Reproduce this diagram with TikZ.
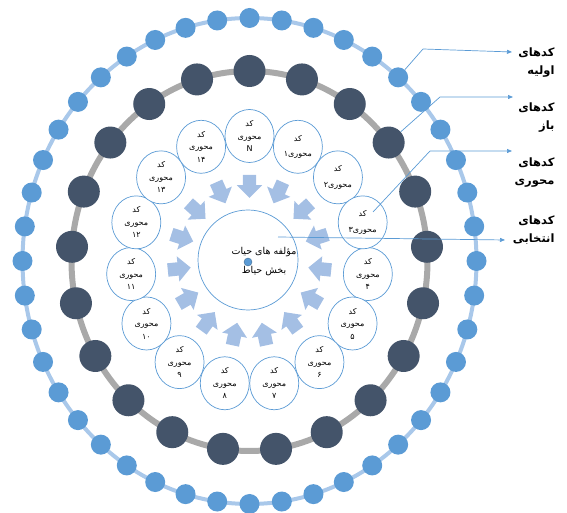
\documentclass[tikz,border=0pt]{standalone}
\usepackage{fontspec}
\usepackage{tikz}
\usetikzlibrary{arrows.meta,positioning,calc,shapes.geometric,shapes.arrows}
\TeXXeTstate=1
\newfontfamily\arabicfont[Script=Arabic,BoldFont={DejaVu Sans Bold}]{DejaVu Sans}
\newcommand{\fatext}[1]{\beginR #1\endR}
\definecolor{initBlue}{HTML}{5B9BD5}
\definecolor{initRing}{HTML}{A9C8EA}
\definecolor{openDark}{HTML}{44546A}
\definecolor{openRing}{HTML}{A9A9A9}
\definecolor{arrowBlue}{HTML}{A4BFE4}

\begin{document}
\begin{tikzpicture}[x=1pt,y=1pt,
    initcode/.style={circle,fill=initBlue,inner sep=0pt,minimum size=20pt},
    opencode/.style={circle,fill=openDark,inner sep=0pt,minimum size=32pt},
    axcode/.style={ellipse,draw=initBlue,fill=white,line width=0.7pt,
                   inner sep=0pt,minimum width=49pt,minimum height=53pt,
                   align=center,font=\arabicfont\fontsize{8}{12.5}\selectfont},
    selcode/.style={ellipse,draw=initBlue,fill=white,line width=0.7pt,
                    minimum width=100pt,minimum height=100pt},
    inarrow/.style={single arrow,fill=arrowBlue,inner sep=6.5pt,
                    single arrow head extend=6pt,minimum height=23pt},
    callout/.style={initBlue,line width=0.7pt},
    lbl/.style={anchor=east,align=right,
                font=\arabicfont\bfseries\fontsize{11.5}{18}\selectfont}
  ]
  \useasboundingbox (0,0) rectangle (567,513);
  \coordinate (O) at (249.5,252);
  %% Outer ring: initial codes (44 dots)
  \draw[initRing,line width=4pt] (O) ellipse [x radius=227pt,y radius=243pt];
  \begin{scope}[shift={(O)}]
    \foreach \k in {0,...,43}
      \node[initcode] (ic\k) at ({90-\k*360/44}:227pt and 243pt) {};
    %% Second ring: open codes (21 dots)
    \draw[openRing,line width=6pt] (0,0) ellipse [x radius=178pt,y radius=190pt];
    \foreach \k in {0,...,20}
      \node[opencode] (oc\k) at ({90-\k*360/21}:178pt and 190pt) {};
    %% Arrows towards the centre
    \foreach \k in {0,...,14}
      \node[inarrow,rotate={270-\k*24}] (ar\k) at ({90-\k*24}:74pt and 78pt) {};
    %% Axial codes
    \foreach \k/\num in {0/N,4/۴,5/۵,6/۶,7/۷,8/۸,9/۹,10/۱۰,11/۱۱,12/۱۲,13/۱۳,14/۱۴}
      \node[axcode] (ax\k) at ({90-\k*24}:119pt and 125pt)
        {\fatext{کد}\\\fatext{محوری}\\\num};
    \foreach \k/\num in {1/۱,2/۲,3/۳}
      \node[axcode] (ax\k) at ({90-\k*24}:119pt and 125pt)
        {\fatext{کد}\\[3pt]\fatext{محوری\num}};
  \end{scope}
  %% Centre: selective code
  \node[selcode] (sel) at (248,253) {};
  \node[align=center,font=\arabicfont\fontsize{9.5}{19}\selectfont] (seltxt) at (264,251)
    {\fatext{مؤلفه های حیات}\\\fatext{بخش حیاط}};
  \node[circle,fill=initBlue,draw=initBlue!70!black,inner sep=0pt,minimum size=8pt] (dot) at (248,251) {};
  %% Callouts
  \coordinate (k1) at (423,464);
  \coordinate (e1) at (512,461);
  \coordinate (k2) at (440,416);
  \coordinate (e2) at (513,416);
  \coordinate (s3) at (373,301);
  \coordinate (k3) at (430,362);
  \coordinate (e3) at (512,362);
  \coordinate (s4) at (278,276);
  \coordinate (e4) at (505,273);
  \draw[callout,-{Triangle[length=5pt,width=4pt]}] (ic5) -- (k1) -- (e1);
  \draw[callout,-{Triangle[length=5pt,width=4pt]}] (oc3) -- (k2) -- (e2);
  \draw[callout,-{Triangle[length=5pt,width=4pt]}] (s3) -- (k3) -- (e3);
  \draw[callout,-{Triangle[length=5pt,width=4pt]}] (s4) -- (e4);
  \node[lbl] (l1) at (558,450.5) {\fatext{کدهای}\\\fatext{اولیه}};
  \node[lbl] (l2) at (558,395.5) {\fatext{کدهای}\\\fatext{باز}};
  \node[lbl] (l3) at (558,340.5) {\fatext{کدهای}\\\fatext{محوری}};
  \node[lbl] (l4) at (558,283) {\fatext{کدهای}\\\fatext{انتخابی}};
\end{tikzpicture}
\end{document}
